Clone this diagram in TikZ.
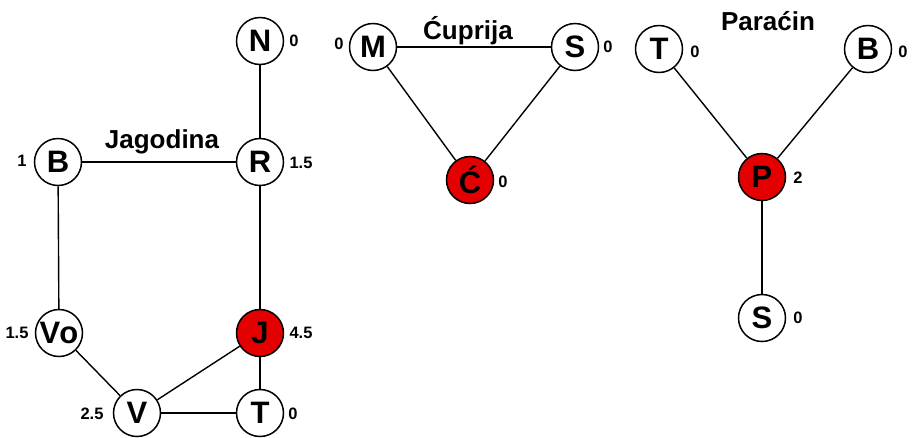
\documentclass[tikz,border=0pt]{standalone}
\usepackage{fontspec}
\setmainfont{Liberation Sans}
\definecolor{nodered}{RGB}{228,0,0}
\begin{document}
\begin{tikzpicture}[x=1pt,y=-1pt,
  city/.style={circle,draw=black,line width=1.5pt,fill=white,minimum size=47pt,inner sep=0pt,font=\bfseries\fontsize{31}{31}\selectfont},
  hub/.style={city,fill=nodered},
  val/.style={font=\bfseries\fontsize{16.5}{16.5}\selectfont,inner sep=0pt},
  ttl/.style={font=\bfseries\fontsize{26}{26}\selectfont,inner sep=0pt},
  edge/.style={line width=1.4pt}]
\useasboundingbox (0,0) rectangle (912,437);
% Jagodina
\node[city] (jN) at (260,41) {N};
\node[city] (jR) at (260,162) {R};
\node[city] (jB) at (58,162) {B};
\node[city] (jVo) at (59,333) {V\kern-1pt o};
\node[hub] (jJ) at (260,333) {J};
\node[city] (jV) at (137,413) {V};
\node[city] (jT) at (260,413) {T};
\node[ttl] (tJ) at (162,142) {Jagodina};
\node[val] (vN) at (294,41) {0};
\node[val] (vR) at (301,163) {1.5};
\node[val] (vB) at (22,161) {1};
\node[val] (vVo) at (17,333) {1.5};
\node[val] (vJ) at (301,333) {4.5};
\node[val] (vV) at (92,414) {2.5};
\node[val] (vT) at (293,414) {0};
\draw[edge] (jN) -- (jR);
\draw[edge] (jB) -- (jR);
\draw[edge] (jR) -- (jJ);
\draw[edge] (jB) -- (jVo);
\draw[edge] (jVo) -- (jV);
\draw[edge] (jV) -- (jJ);
\draw[edge] (jJ) -- (jT);
\draw[edge] (jV) -- (jT);
% Cuprija
\node[city] (cM) at (373,47) {M};
\node[city] (cS) at (575,47) {S};
\node[hub] (cC) at (470,180) {Ć};
\node[ttl] (tC) at (468,31) {Ćuprija};
\node[val] (vM) at (339,44) {0};
\node[val] (vS) at (608,47) {0};
\node[val] (vC) at (503,182) {0};
\draw[edge] (cM) -- (cS);
\draw[edge] (cM) -- (cC);
\draw[edge] (cS) -- (cC);
% Paracin
\node[city] (pT) at (659,49) {T};
\node[city] (pB) at (868,49) {B};
\node[hub] (pP) at (762,177) {P};
\node[city] (pS) at (762,318) {S};
\node[ttl] (tP) at (768,21) {Paraćin};
\node[val] (vpT) at (695,52) {0};
\node[val] (vpB) at (903,52) {0};
\node[val] (vpP) at (798,178) {2};
\node[val] (vpS) at (798,318) {0};
\draw[edge] (pT) -- (pP);
\draw[edge] (pB) -- (pP);
\draw[edge] (pP) -- (pS);
\end{tikzpicture}
\end{document}
